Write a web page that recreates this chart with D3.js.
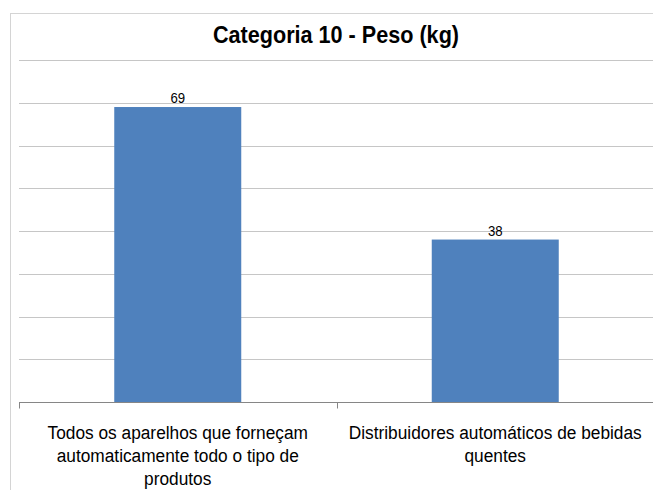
<!DOCTYPE html>
<html>
<head>
<meta charset="utf-8">
<script src="https://cdn.jsdelivr.net/npm/d3@7"></script>
<style>
  body { margin: 0; background: #fff; }
  text { font-family: "Liberation Sans Narrow", "Arial Narrow", "Liberation Sans", sans-serif; fill: #000; }
</style>
</head>
<body>
<script>
// data
var categories = [
  ["Todos os aparelhos que forneçam", "automaticamente todo o tipo de", "produtos"],
  ["Distribuidores automáticos de bebidas", "quentes"]
];
var values = [69, 38];
var gridTicks = [0, 10, 20, 30, 40, 50, 60, 70, 80];
var title = "Categoria 10 - Peso (kg)";

var W = 653, H = 490;
var margin = {top: 60, right: -1, bottom: 88, left: 19};
var width = W - margin.left - margin.right,
    height = H - margin.top - margin.bottom;

// squeeze a text element sideways (no narrow font installed)
function squeeze(sel, k) {
  sel.each(function() {
    var len = this.getComputedTextLength();
    d3.select(this)
      .attr("textLength", len * k)
      .attr("lengthAdjust", "spacingAndGlyphs");
  });
}

var svg = d3.select("body").append("svg")
    .attr("width", W)
    .attr("height", H);

// chart area border (runs off the right and bottom of the picture)
svg.append("rect")
    .attr("x", 10.5).attr("y", 13.5)
    .attr("width", 700).attr("height", 600)
    .attr("fill", "#fff")
    .attr("stroke", "#d4d4d4");

svg.append("text")
    .attr("x", 336).attr("y", 43)
    .attr("text-anchor", "middle")
    .style("font-size", "24px")
    .style("font-weight", "bold")
    .text(title)
    .call(squeeze, 0.9);

var g = svg.append("g")
    .attr("transform", "translate(" + margin.left + "," + margin.top + ")");

var x = d3.scaleBand()
    .domain(d3.range(values.length))
    .range([0, width])
    .paddingInner(0.6)
    .paddingOuter(0.3);

var y = d3.scaleLinear()
    .domain([0, 80])
    .range([height, 0]);

// horizontal gridlines
g.append("g")
  .selectAll("line")
  .data(gridTicks.filter(function(d) { return d > 0; }))
  .enter()
  .append("line")
    .attr("x1", 0).attr("x2", width)
    .attr("y1", function(d) { return Math.round(y(d)) + 0.5; })
    .attr("y2", function(d) { return Math.round(y(d)) + 0.5; })
    .attr("stroke", "#c6c6c6");

// bars
g.append("g")
  .selectAll("rect")
  .data(values)
  .enter()
  .append("rect")
    .attr("x", function(d, i) { return x(i); })
    .attr("y", function(d) { return y(d); })
    .attr("width", x.bandwidth())
    .attr("height", function(d) { return height - y(d); })
    .attr("fill", "#4f81bd");

// value labels
g.append("g")
  .selectAll("text")
  .data(values)
  .enter()
  .append("text")
    .attr("x", function(d, i) { return x(i) + x.bandwidth() / 2; })
    .attr("y", function(d) { return y(d) - 4; })
    .attr("text-anchor", "middle")
    .style("font-size", "15px")
    .text(function(d) { return d; })
    .call(squeeze, 0.88);

// x axis line with category boundary ticks
var step = width / values.length;
var axis = g.append("g").attr("transform", "translate(0," + (Math.round(height) + 0.5) + ")");
axis.append("line")
    .attr("x1", 0).attr("x2", width)
    .attr("stroke", "#868686");
axis.selectAll(".tick")
  .data(d3.range(values.length + 1))
  .enter()
  .append("line")
    .attr("class", "tick")
    .attr("x1", function(d) { return Math.round(d * step) + 0.5; })
    .attr("x2", function(d) { return Math.round(d * step) + 0.5; })
    .attr("y1", 0).attr("y2", 6)
    .attr("stroke", "#868686");

// category labels
var labels = axis.selectAll(".cat")
  .data(categories)
  .enter()
  .append("text")
    .attr("class", "cat")
    .attr("text-anchor", "middle")
    .style("font-size", "18px");
labels.selectAll("tspan")
  .data(function(d, i) { return d.map(function(t) { return {t: t, i: i}; }); })
  .enter()
  .append("tspan")
    .attr("x", function(d) { return x(d.i) + x.bandwidth() / 2; })
    .attr("y", function(d, j) { return 36.5 + j * 23; })
    .text(function(d) { return d.t; })
    .call(squeeze, 0.96);
</script>
</body>
</html>
